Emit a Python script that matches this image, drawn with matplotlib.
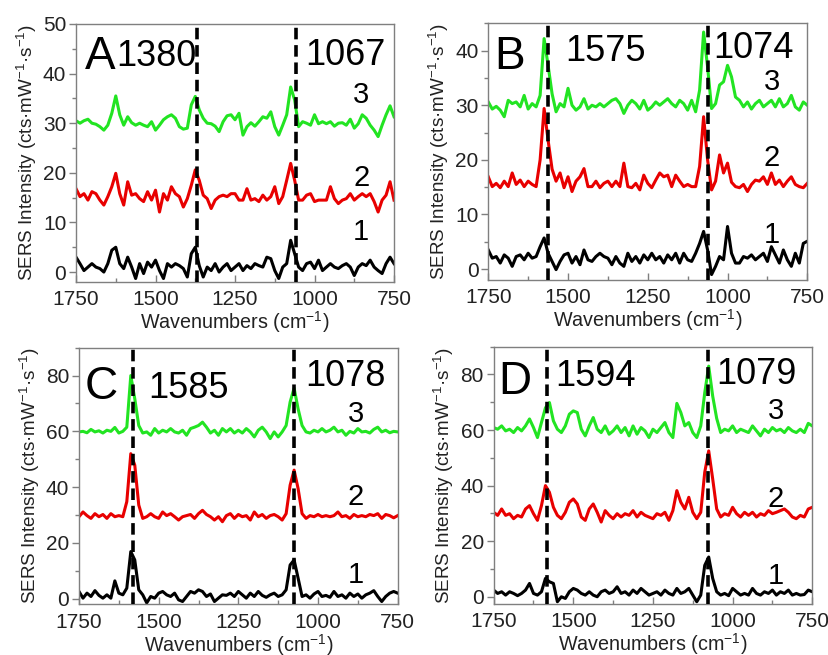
import numpy as np
import matplotlib
matplotlib.use("Agg")
import matplotlib.pyplot as plt

plt.rcParams['font.family'] = ['Liberation Sans', 'DejaVu Sans']
plt.rcParams['mathtext.fontset'] = 'custom'
plt.rcParams['mathtext.rm'] = 'Liberation Sans'
plt.rcParams['mathtext.it'] = 'Liberation Sans'

# wavenumber sampling (cm^-1), 1750 -> 750 in 12.5 steps
wn = np.arange(1750, 749, -12.5)

# ---------------- Panel A ----------------
A3 = [30.5, 30.0, 30.5, 30.8, 30.0, 29.8, 29.3, 28.6,
      29.6, 32.0, 35.5, 31.7, 29.6, 31.3, 30.1, 29.6,
      30.0, 29.6, 29.3, 30.3, 28.6, 29.6, 30.7, 31.3,
      31.7, 31.0, 29.3, 28.8, 29.0, 33.7, 35.4, 32.7,
      31.0, 30.0, 29.9, 29.4, 28.3, 30.3, 31.5, 31.7,
      30.7, 32.0, 27.6, 29.3, 30.1, 29.4, 30.3, 31.3,
      31.0, 32.3, 29.3, 27.6, 29.6, 31.7, 37.3, 34.7,
      29.3, 30.3, 30.0, 29.6, 31.7, 29.9, 30.3, 29.9,
      30.3, 29.4, 30.0, 30.1, 29.6, 30.8, 29.0, 29.9,
      31.7, 31.0, 29.6, 28.6, 27.3, 29.6, 31.7, 33.5,
      31.3]
A2 = [16.8, 15.2, 15.8, 14.5, 16.2, 15.8, 14.5, 13.5,
      15.2, 17.2, 19.9, 15.8, 13.5, 18.2, 15.5, 15.8,
      14.8, 14.2, 16.2, 14.5, 16.5, 12.1, 15.8, 14.5,
      17.2, 15.8, 15.2, 13.1, 14.8, 17.5, 20.6, 18.5,
      15.5, 14.8, 12.8, 14.5, 15.2, 15.5, 15.2, 15.8,
      15.8, 14.5, 14.5, 16.8, 14.5, 14.8, 14.2, 15.5,
      14.5, 15.2, 17.2, 13.8, 15.2, 18.5, 21.9, 18.5,
      14.5, 14.5, 15.5, 15.8, 14.2, 14.5, 14.5, 14.5,
      17.2, 14.8, 13.8, 14.5, 14.8, 15.8, 14.5, 15.2,
      15.8, 15.2, 15.8, 14.2, 12.1, 14.5, 15.5, 18.2,
      14.5]
A1 = [3.0, 1.7, 0.3, 1.0, 1.7, 1.0, 0.7, 0.0,
      1.7, 4.4, 5.0, 1.7, 0.7, 3.0, 1.0, -1.3,
      1.7, -0.3, 2.0, 1.0, 2.4, 0.3, -1.3, 1.7,
      1.0, 1.7, 1.3, 0.7, -1.0, 3.7, 5.0, 1.3,
      -1.0, 1.0, 0.3, 1.7, 0.0, 1.0, 1.7, 0.3,
      1.0, 1.7, 0.3, 1.3, 0.7, 1.7, 1.3, 1.0,
      3.0, 2.7, 0.3, -1.3, 1.0, 1.7, 6.4, 3.7,
      1.0, 0.3, 1.7, 2.0, 0.7, 2.4, 0.3, 1.0,
      1.7, 1.0, 0.7, 1.3, 1.7, 1.0, -0.7, 1.0,
      1.7, 1.3, 2.4, 1.0, 0.3, -0.3, 1.7, 3.0,
      1.7]

# ---------------- Panel B ----------------
B3 = [30.6, 29.3, 29.8, 29.1, 27.9, 30.9, 30.3, 30.6,
      29.7, 31.8, 29.3, 30.3, 29.7, 31.8, 42.2, 37.3,
      32.1, 28.8, 30.3, 29.7, 33.1, 30.0, 29.1, 29.7,
      31.2, 29.3, 30.0, 29.7, 30.3, 29.7, 30.3, 30.9,
      31.2, 30.3, 28.5, 30.0, 30.9, 30.3, 29.3, 30.9,
      29.1, 29.7, 30.6, 30.0, 30.6, 31.2, 30.3, 29.7,
      30.9, 30.3, 29.1, 30.9, 28.8, 32.8, 43.4, 37.0,
      29.4, 30.3, 33.7, 34.3, 37.3, 35.2, 31.5, 30.9,
      29.7, 30.6, 29.3, 30.3, 30.9, 29.7, 30.3, 30.9,
      29.7, 31.2, 29.7, 30.3, 31.8, 29.7, 29.1, 30.6,
      30.0]
B2 = [16.9, 15.1, 15.7, 14.9, 16.1, 15.1, 17.6, 15.5,
      16.3, 15.1, 16.1, 15.5, 15.1, 20.0, 29.4, 23.6,
      18.3, 16.1, 17.6, 14.9, 16.9, 14.2, 16.1, 16.9,
      18.4, 15.1, 15.1, 16.1, 14.9, 15.7, 16.1, 15.1,
      16.1, 15.1, 19.4, 15.1, 14.9, 15.7, 14.5, 17.2,
      15.7, 14.9, 16.3, 17.6, 16.9, 17.2, 15.1, 17.2,
      16.1, 15.1, 15.5, 15.1, 15.1, 18.8, 27.9, 20.0,
      14.5, 16.1, 20.9, 17.6, 19.4, 15.9, 15.1, 14.9,
      15.5, 14.2, 15.5, 16.3, 16.1, 16.9, 15.5, 17.6,
      15.5, 16.3, 15.1, 16.1, 16.9, 15.5, 15.1, 14.9,
      15.7]
B1 = [3.5, 2.0, 2.3, 1.1, 2.6, 2.0, 0.5, 2.3,
      2.6, 1.7, 2.9, 2.0, 2.3, 4.1, 5.7, 2.9,
      1.4, -0.1, 1.4, 2.6, 2.9, 1.1, 2.3, 0.8,
      3.5, 1.7, 1.4, 2.3, 2.9, 2.3, 2.0, 0.8,
      2.3, 1.1, 0.5, 2.9, 1.4, 2.3, 1.1, 2.6,
      1.7, 2.9, 1.7, 2.3, 1.1, 2.6, 1.7, 2.9,
      1.1, 2.9, 1.7, 1.4, 2.9, 4.7, 6.9, 3.5,
      -1.0, 0.5, 2.3, 1.7, 7.8, 2.9, 1.1, 1.1,
      2.3, 2.0, 2.6, 1.7, 2.3, 2.9, 1.4, 4.1,
      2.6, 1.1, 3.5, 1.7, 0.5, 2.9, 1.1, 4.7,
      5.1]

# ---------------- Panel C ----------------
C3 = [59.8, 60.0, 59.5, 60.7, 59.8, 60.2, 59.4, 60.4,
      60.0, 61.4, 59.4, 60.0, 61.5, 80.0, 71.7, 62.1,
      59.4, 59.8, 58.6, 61.0, 59.4, 60.4, 59.8, 61.0,
      59.8, 59.4, 60.4, 58.6, 61.0, 61.5, 62.1, 63.3,
      61.5, 59.4, 60.4, 58.6, 61.0, 59.8, 61.0, 59.4,
      60.4, 59.4, 61.0, 59.8, 58.0, 60.4, 61.5, 59.8,
      57.4, 59.8, 58.0, 59.8, 62.1, 70.5, 75.5, 68.1,
      62.1, 59.8, 59.4, 60.4, 59.8, 61.0, 59.8, 60.4,
      61.5, 59.8, 60.4, 58.6, 60.0, 59.4, 61.0, 59.8,
      60.0, 59.4, 60.7, 61.5, 59.8, 60.4, 59.5, 60.0,
      59.8]
C2 = [29.4, 31.1, 29.8, 28.8, 30.5, 29.4, 30.2, 28.8,
      30.5, 29.4, 29.8, 29.4, 34.8, 52.0, 47.9, 33.6,
      28.8, 29.4, 30.5, 29.4, 28.8, 31.1, 29.8, 30.5,
      29.4, 28.2, 29.4, 29.8, 30.2, 28.8, 30.5, 31.7,
      30.2, 29.4, 28.2, 29.4, 27.6, 29.8, 30.5, 28.8,
      30.2, 29.4, 29.8, 28.2, 31.1, 29.4, 30.2, 28.8,
      29.8, 30.2, 29.4, 28.2, 30.5, 40.7, 46.1, 39.5,
      30.5, 28.8, 29.8, 29.4, 30.2, 29.4, 29.8, 29.4,
      29.8, 31.1, 29.4, 29.8, 28.8, 30.2, 29.4, 29.8,
      29.4, 30.2, 29.8, 30.5, 28.8, 30.2, 29.8, 29.0,
      29.8]
C1 = [2.6, 0.2, 2.0, 0.8, 2.9, 1.2, 0.2, 1.4,
      0.2, 6.4, 2.0, 1.4, 3.8, 16.9, 13.9, 3.2,
      1.4, -1.5, 0.8, 0.2, 2.0, 2.6, 1.4, 0.8,
      2.0, -0.4, -1.0, 0.8, 2.6, 2.0, 3.2, 2.6,
      0.8, 1.7, -1.0, 0.2, 1.4, 1.2, 2.0, 0.8,
      2.6, 1.4, 0.2, 2.0, 0.8, 2.6, 1.2, 0.5,
      1.4, 2.0, 0.8, 1.4, 3.2, 12.1, 13.9, 7.4,
      0.8, 1.4, 0.2, 1.7, 2.6, 0.8, 1.2, 0.5,
      2.6, 0.8, 1.4, 0.2, 2.0, 0.8, 1.7, 0.2,
      1.4, 2.0, 2.9, 0.8, -1.0, 0.8, 2.0, 2.6,
      2.0]

# ---------------- Panel D ----------------
D3 = [60.9, 60.3, 61.5, 59.7, 60.3, 59.1, 60.9, 59.7,
      61.5, 64.0, 60.9, 57.3, 62.7, 68.0, 69.9, 63.3,
      60.3, 59.1, 61.5, 65.7, 66.9, 66.3, 60.3, 57.9,
      61.5, 64.5, 60.3, 59.1, 61.5, 58.5, 59.7, 61.5,
      59.1, 60.9, 57.9, 61.5, 58.5, 60.9, 59.7, 57.3,
      60.3, 59.1, 60.9, 62.7, 59.1, 57.3, 69.6, 66.3,
      61.5, 62.7, 59.1, 57.3, 61.5, 73.4, 83.0, 72.2,
      64.2, 59.1, 60.3, 59.7, 61.5, 59.1, 60.3, 59.7,
      59.1, 61.5, 59.7, 57.9, 60.3, 59.1, 60.9, 59.7,
      60.3, 59.1, 60.9, 59.7, 59.1, 60.3, 59.1, 62.4,
      61.5]
D2 = [30.4, 29.3, 31.6, 29.3, 29.9, 28.1, 29.3, 28.7,
      31.6, 32.8, 29.9, 27.5, 32.8, 40.0, 37.6, 32.2,
      29.3, 28.1, 30.4, 34.0, 35.2, 33.4, 28.7, 27.5,
      31.6, 33.4, 30.4, 26.9, 31.0, 29.3, 28.1, 29.9,
      28.7, 29.9, 29.3, 31.0, 28.7, 30.4, 29.3, 28.7,
      28.1, 29.9, 29.3, 30.4, 27.5, 31.0, 38.2, 34.0,
      31.6, 35.8, 30.4, 28.1, 30.4, 44.8, 52.5, 42.4,
      31.6, 28.7, 29.9, 29.3, 32.2, 29.9, 28.7, 30.4,
      29.3, 30.4, 28.7, 29.9, 29.3, 31.0, 29.9, 30.4,
      31.0, 31.6, 30.4, 28.7, 28.1, 29.3, 28.7, 31.6,
      32.2]
D1 = [2.4, 1.2, 1.8, 0.6, 1.8, 1.2, 0.4, 1.2,
      2.4, 4.8, 1.2, 0.6, 1.8, 6.6, 5.4, 4.8,
      -1.8, 0.0, -0.6, 1.8, 3.0, 2.4, 1.2, 0.6,
      1.8, 0.6, 0.0, 1.8, 2.4, 1.2, 1.8, 3.6,
      1.2, 1.8, 0.6, 2.4, 1.2, 3.0, 1.8, 0.6,
      1.2, 1.8, 0.6, 2.4, 1.2, 0.6, 3.0, 1.2,
      1.8, 3.0, 0.6, -1.8, 0.6, 11.3, 14.3, 6.6,
      1.8, 0.6, 1.2, 0.4, 3.0, 1.8, 0.6, 1.2,
      0.6, 3.0, 1.2, 0.6, 1.8, 1.2, 2.4, 0.6,
      1.8, 1.2, 2.4, 0.6, 1.2, 0.6, 0.8, 2.4,
      1.8]

panel_letters = ['A', 'B', 'C', 'D']
peak_labels = [('1380', '1067'), ('1575', '1074'), ('1585', '1078'), ('1594', '1079')]
dash_positions = [(1370, 1057), (1564, 1060), (1580, 1074), (1584, 1078)]
series = [(A1, A2, A3), (B1, B2, B3), (C1, C2, C3), (D1, D2, D3)]
ylims = [(-2, 50), (-2, 45), (-2, 90), (-2.5, 90)]
yticks = [[0, 10, 20, 30, 40, 50], [0, 10, 20, 30, 40], [0, 20, 40, 60, 80], [0, 20, 40, 60, 80]]
yminor = [5, 5, 10, 10]
series_names = ['1', '2', '3']
series_colors = ['#000000', '#e80000', '#22e422']

# layout (figure fractions)
axes_rects = [[0.0917, 0.5695, 0.3836, 0.3939],
              [0.5890, 0.5725, 0.3848, 0.3919],
              [0.0953, 0.0774, 0.3844, 0.3918],
              [0.5955, 0.0783, 0.3843, 0.3924]]
letter_pos = [(0.075, 0.872), (0.068, 0.870), (0.069, 0.848), (0.067, 0.864)]
peak1_pos = [(0.127, 0.872), (0.240, 0.889), (0.217, 0.842), (0.192, 0.883)]
peak2_pos = [(0.720, 0.877), (0.704, 0.902), (0.709, 0.887), (0.700, 0.890)]
name_pos = [[(853, 8.1), (853, 18.9), (853, 35.7)],
            [(862, 6.3), (862, 20.3), (862, 34.3)],
            [(881, 8.6), (881, 36.5), (881, 66.3)],
            [(865, 7.5), (865, 35.2), (865, 66.9)]]

fig = plt.figure(figsize=(8.29, 6.55), dpi=100)
spine_col = '#7f7f7f'
for i in range(4):
    ax = fig.add_axes(axes_rects[i])
    for s, name, col in zip(series[i], series_names, series_colors):
        ax.plot(wn, s, color=col, lw=2.2, solid_joinstyle='round')
    for xd in dash_positions[i]:
        ax.axvline(xd, color='black', lw=2.6, ls=(0, (3.2, 1.6)), zorder=5)
    ax.set_xlim(1750, 750)
    ax.set_ylim(*ylims[i])
    ax.set_xticks([1750, 1500, 1250, 1000, 750])
    ax.set_xticks(np.arange(1750, 749, -125), minor=True)
    ax.set_yticks(yticks[i])
    ax.set_yticks(np.arange(0, ylims[i][1] + 0.1, yminor[i]), minor=True)
    ax.tick_params(axis='x', which='major', direction='in', length=5, width=1,
                   color=spine_col, labelsize=15, pad=6, labelcolor='#222222')
    ax.tick_params(axis='x', which='minor', direction='in', length=3, width=1, color=spine_col)
    ax.tick_params(axis='y', which='major', direction='out', length=5, width=1,
                   color=spine_col, labelsize=15, pad=2, labelcolor='#222222')
    ax.tick_params(axis='y', which='minor', direction='out', length=3, width=1, color=spine_col)
    for sp in ax.spines.values():
        sp.set_color(spine_col)
        sp.set_linewidth(1.0)
    ax.set_xlabel('Wavenumbers (cm$^{-1}$)', fontsize=14.2, labelpad=0, color='#222222')
    ax.set_ylabel('SERS Intensity (cts·mW$^{-1}$·s$^{-1}$)', fontsize=13.6, labelpad=3,
                  color='#222222')
    ax.text(*letter_pos[i], panel_letters[i], transform=ax.transAxes, fontsize=33,
            ha='center', va='center', zorder=6)
    ax.text(*peak1_pos[i], peak_labels[i][0], transform=ax.transAxes, fontsize=26,
            ha='left', va='center', zorder=6)
    ax.text(*peak2_pos[i], peak_labels[i][1], transform=ax.transAxes, fontsize=26,
            ha='left', va='center', zorder=6)
    for (xn, yn), name in zip(name_pos[i], series_names):
        ax.text(xn, yn, name, fontsize=21, ha='center', va='center', zorder=6)

fig.savefig('out.png', dpi=100)
